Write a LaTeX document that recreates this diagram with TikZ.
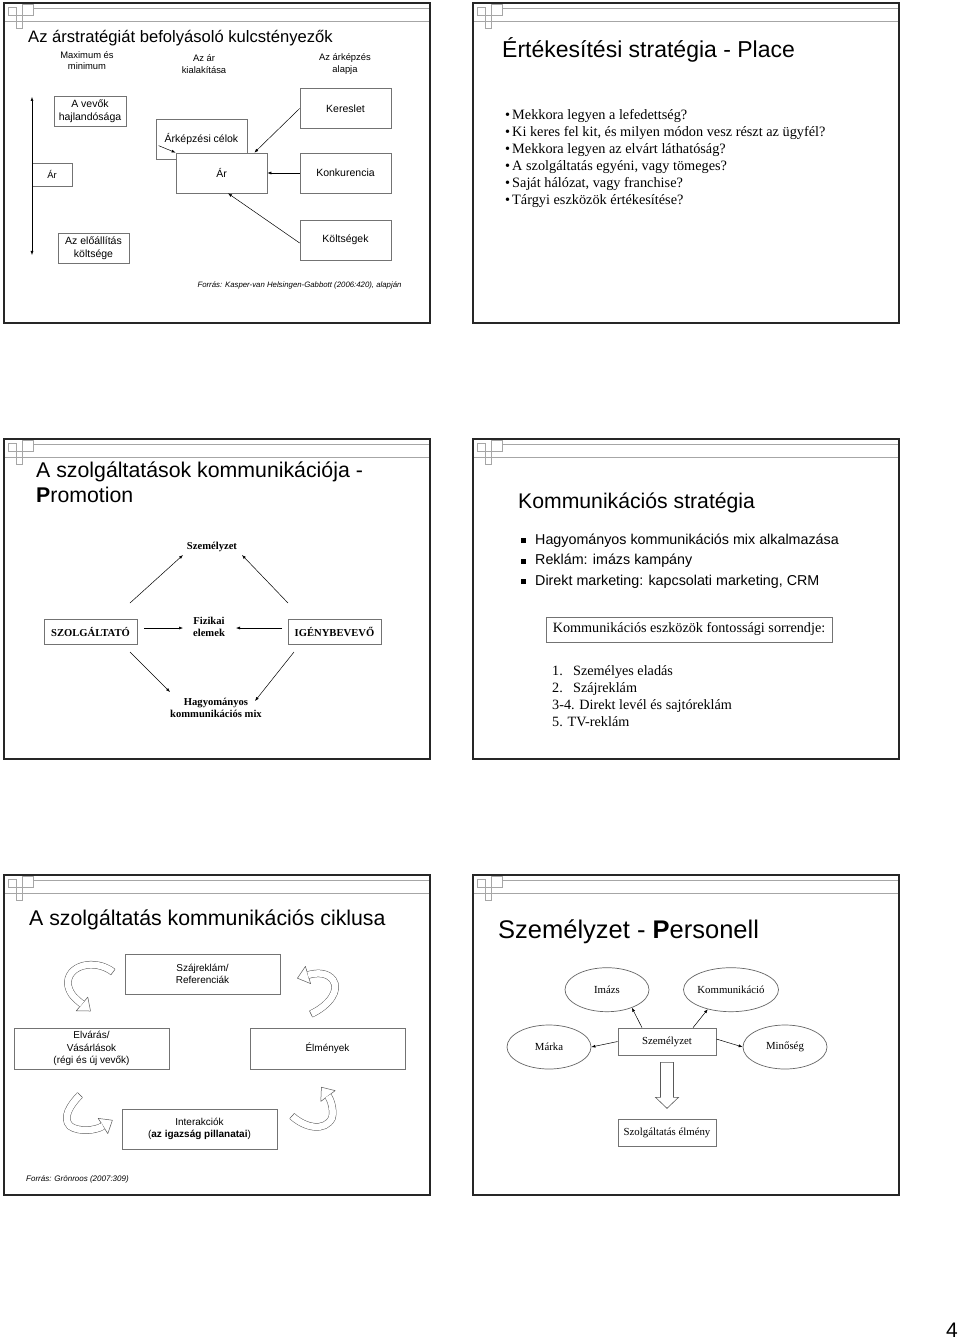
\documentclass[tikz,border=0pt]{standalone}
\usepackage{fontspec}
\setmainfont{Liberation Serif}
\setsansfont{Liberation Sans}
\usepackage{tikz}
\usetikzlibrary{arrows.meta,shapes.geometric,positioning}

\newcommand{\sfsize}[2]{\sffamily\fontsize{#1}{#2}\selectfont}
\newcommand{\rmsize}[2]{\rmfamily\fontsize{#1}{#2}\selectfont}

\tikzstyle{slideframe}=[draw=black!85,line width=1.9pt]
\tikzstyle{hdline}=[draw=black!35,line width=0.6pt]
\tikzstyle{grbox}=[draw=black!55,line width=0.7pt,fill=white,inner sep=0pt,align=center]
\tikzstyle{oval}=[ellipse,draw=black!60,line width=0.7pt,minimum width=84pt,minimum height=44pt,inner sep=0pt,font=\rmsize{10.8}{13}]
\tikzstyle{arr}=[draw,line width=0.5pt,-{Latex[length=4pt,width=3pt]}]
\tikzstyle{curlarrow}=[draw=black!65,line width=0.5pt,double=white,double distance=6.5pt]
\tikzstyle{curlhead}=[draw=black!65,line width=0.5pt,fill=white,line join=round]
\tikzstyle{ttl}=[anchor=base west,inner sep=0pt,align=left]
\tikzstyle{sfbox}=[grbox,font=\sfsize{10.5}{13}]
\tikzstyle{tbold}=[font=\rmsize{10.6}{12.7}\bfseries,align=center,inner sep=0pt]
\tikzstyle{cycbox}=[grbox,minimum width=155pt,font=\sfsize{10}{12.7}]

\begin{document}
\begin{tikzpicture}[x=1pt,y=-1pt]
\useasboundingbox (0,0) rectangle (960,1340);
\fill[white] (0,0) rectangle (960,1340);

% slide frames and header decoration
\foreach \sx/\sy in {4/3,473/3,4/439,473/439,4/875,473/875}{
    \draw[hdline] (\sx+29,\sy+5) -- (\sx+426,\sy+5);
    \draw[hdline] (\sx,\sy+18) -- (\sx+426,\sy+18);
    \draw[hdline] (\sx+4,\sy+4) rectangle (\sx+12,\sy+12);
    \draw[hdline] (\sx+12,\sy+12) rectangle (\sx+18,\sy+25);
    \draw[hdline] (\sx+18,\sy+1) rectangle (\sx+29,\sy+12);
    \draw[slideframe] (\sx,\sy) rectangle (\sx+426,\sy+320);
}

% slide 1: arstrategia
\node[ttl,font=\sfsize{16.6}{20}] (t1) at (28,43) {Az árstratégiát befolyásoló kulcstényezők};
\node[align=center,inner sep=0pt,font=\sfsize{9.4}{11.5}] (hmax) at (87,60.5) {Maximum és\\minimum};
\node[align=center,inner sep=0pt,font=\sfsize{9.4}{11.5}] (hkial) at (204,64) {Az ár\\kialakítása};
\node[align=center,inner sep=0pt,font=\sfsize{9.4}{11.5}] (halap) at (345,64) {Az árképzés\\alapja};

\node[sfbox,minimum width=72pt,minimum height=30pt] (vevok) at (90,111) {A vevők\\hajlandósága};
\node[grbox,minimum width=40pt,minimum height=23pt,font=\sfsize{9.4}{11}] (arL) at (52,174.5) {Ár};
\node[sfbox,minimum width=71pt,minimum height=30pt] (eloall) at (93.5,248) {Az előállítás\\költsége};
\node[sfbox,minimum width=91pt,minimum height=40pt] (celok) at (201.5,139) {Árképzési célok};
\node[sfbox,minimum width=91pt,minimum height=40pt] (arM) at (221.5,173) {Ár};
\foreach \name/\y/\txt in {kereslet/108.5/Kereslet, konk/173/Konkurencia, kolts/240/Költségek}
    \node[sfbox,minimum width=91pt,minimum height=40pt] (\name) at (345.5,\y) {\txt};

\coordinate (vtop) at (32,97);
\coordinate (vbot) at (32,255);
\draw[line width=0.5pt,{Latex[length=4pt,width=3pt]}-{Latex[length=4pt,width=3pt]}] (vtop) -- (vbot);

\draw[arr] (kereslet.west) -- ([shift={(-13,0)}]arM.north east);
\draw[arr] (konk.west) -- (arM.east);
\draw[arr] ([shift={(0,3)}]kolts.west) -- ([shift={(6.5,0)}]arM.south);
\draw[arr] ([shift={(3,27)}]celok.north west) -- (arM.north west);

\node[anchor=base,inner sep=0pt,font=\sfsize{7.8}{9}\itshape] (src1) at (299.5,287) {Forrás: Kasper-van Helsingen-Gabbott (2006:420), alapján};

% slide 2: place
\node[ttl,font=\sfsize{23}{27}] (t2) at (502,57.7) {Értékesítési stratégia - Place};
\foreach \txt [count=\i] in {{Mekkora legyen a lefedettség?},{Ki keres fel kit, és milyen módon vesz részt az ügyfél?},{Mekkora legyen az elvárt láthatóság?},{A szolgáltatás egyéni, vagy tömeges?},{Saját hálózat, vagy franchise?},{Tárgyi eszközök értékesítése?}}
    \node[anchor=base west,inner sep=0pt,font=\rmsize{14.3}{17}] (place\i) at (505,103+17*\i) {\textbullet\hspace{2pt}\txt};

% slide 3: promotion
\node[ttl,font=\sfsize{21.3}{25}] (t3) at (36,502.7) {A szolgáltatások kommunikációja -\\\textbf{P}romotion};
\node[tbold] (szem) at (212,547) {Személyzet};
\node[tbold] (fiz) at (209,627) {Fizikai\\elemek};
\node[tbold] (hagy) at (216,708) {Hagyományos\\kommunikációs mix};
\node[grbox,tbold,draw=black!55,minimum width=93pt,minimum height=25pt] (szolg) at (90.5,631.5) {SZOLGÁLTATÓ};
\node[grbox,tbold,draw=black!55,minimum width=93pt,minimum height=25pt] (igeny) at (334.5,631.5) {IGÉNYBEVEVŐ};

\draw[arr] ([shift={(39.5,-28.5)}]szolg.center) -- ([shift={(-29,8)}]szem.center);
\draw[arr] ([shift={(-46.5,-28.5)}]igeny.center) -- ([shift={(30,8)}]szem.center);
\draw[arr] ([shift={(53.5,-3.5)}]szolg.center) -- ([shift={(-26,1)}]fiz.center);
\draw[arr] ([shift={(-52.5,-3.5)}]igeny.center) -- ([shift={(27,1)}]fiz.center);
\draw[arr] ([shift={(39.5,20.5)}]szolg.center) -- ([shift={(-46,-16)}]hagy.center);
\draw[arr] ([shift={(-40.5,20.5)}]igeny.center) -- ([shift={(39,-7)}]hagy.center);

% slide 4: kommunikacios strategia
\node[ttl,font=\sfsize{21.2}{25}] (t4) at (518,508.3) {Kommunikációs stratégia};
\foreach \txt [count=\i] in {{Hagyományos kommunikációs mix alkalmazása},{Reklám: imázs kampány},{Direkt marketing: kapcsolati marketing, CRM}}
    \node[anchor=base west,inner sep=0pt,font=\sfsize{14.3}{17}] (kb\i) at (520.5,523.5+20.5*\i) {\rule[0.8pt]{5pt}{5pt}\hspace{9.5pt}\txt};
\node[grbox,minimum width=286pt,minimum height=25pt,font=\rmsize{14.2}{17}] (eszk) at (689,629.5) {Kommunikációs eszközök fontossági sorrendje:};
\foreach \txt [count=\i] in {{\makebox[21pt][l]{1.}Személyes eladás},{\makebox[21pt][l]{2.}Szájreklám},{3-4. Direkt levél és sajtóreklám},{5. TV-reklám}}
    \node[anchor=base west,inner sep=0pt,font=\rmsize{14.2}{17}] (rend\i) at (552,658.5+17*\i) {\txt};

% slide 5: kommunikacios ciklus
\node[ttl,font=\sfsize{21.3}{25}] (t5) at (29,925) {A szolgáltatás kommunikációs ciklusa};
\node[cycbox,minimum height=40pt] (szaj) at (202.5,974) {Szájreklám/\\Referenciák};
\node[cycbox,minimum height=41pt] (elvar) at (91.5,1048.5) {Elvárás/\\Vásárlások\\(régi és új vevők)};
\node[cycbox,minimum height=41pt] (elmenyek) at (327.5,1048.5) {Élmények};
\node[cycbox,minimum height=40pt] (inter) at (199.5,1129) {Interakciók\\(\textbf{az igazság pillanatai})};

% curved hollow arrows
\draw[curlhead] (76.2,1010.9) -- (90.5,1011) -- (87.8,997.1) -- cycle;
\draw[curlarrow] (113,972) .. controls (95,958) and (66,965) .. (68,985) .. controls (70,995) and (76,999) .. (82,1004);
\draw[curlhead] (115,969.4) -- (111,974.6);

\draw[curlhead] (305.4,966.4) -- (297.4,978.2) -- (310.6,983.6) -- cycle;
\draw[curlarrow] (311,1014) .. controls (330,1005) and (340,990) .. (333,980) .. controls (328,973) and (318,972) .. (308,975);
\draw[curlhead] (312.4,1016.9) -- (309.6,1011.1);

\draw[curlhead] (107.8,1133.6) -- (112.4,1120.2) -- (98.2,1118.4) -- cycle;
\draw[curlarrow] (80,1095) .. controls (70,1105) and (62,1118) .. (70,1126) .. controls (78,1132) and (95,1131) .. (103,1126);
\draw[curlhead] (82.3,1097.3) -- (77.7,1092.7);

\draw[curlhead] (335.2,1090.6) -- (321.4,1087.2) -- (320.8,1101.4) -- cycle;
\draw[curlarrow] (292,1116) .. controls (305,1128) and (325,1132) .. (332,1118) .. controls (334,1110) and (331,1100) .. (328,1096);
\draw[curlhead] (289.8,1118.4) -- (294.2,1113.6);

\node[anchor=base west,inner sep=0pt,font=\sfsize{8}{9.5}\itshape] (src5) at (26,1181) {Forrás: Grönroos (2007:309)};

% slide 6: personell
\node[ttl,font=\sfsize{25.5}{30}] (t6) at (498,938.3) {Személyzet - \textbf{P}ersonell};
\node[oval] (imazs) at (607,989.7) {Imázs};
\node[oval] (komm) at (731,989.7) {Kommunikáció};
\node[oval] (marka) at (549,1047) {Márka};
\node[oval] (minoseg) at (785,1047) {Minőség};
\node[grbox,minimum width=98pt,minimum height=27pt,font=\rmsize{10.8}{13}] (szemb) at (667,1041.5) {Személyzet};
\node[grbox,minimum width=98pt,minimum height=27pt,font=\rmsize{10.8}{13}] (elmeny) at (667,1132.5) {Szolgáltatás élmény};

\draw[arr] ([shift={(-25,0)}]szemb.north) -- (imazs.-36);
\draw[arr] ([shift={(26,0)}]szemb.north) -- (komm.-140);
\draw[arr] (szemb.west) -- (marka.east);
\draw[arr] ([shift={(0,-2.5)}]szemb.east) -- (minoseg.west);
\draw[line width=0.6pt,draw=black!65,fill=white] ([shift={(-6.5,7)}]szemb.south) -- ++(13,0) -- ++(0,35) -- ++(5,0) -- ++(-11.5,11) -- ++(-11.5,-11) -- ++(5,0) -- cycle;

\node[anchor=base east,inner sep=0pt,font=\sfsize{21}{24}] (pnum) at (958,1337) {4};
\end{tikzpicture}
\end{document}
